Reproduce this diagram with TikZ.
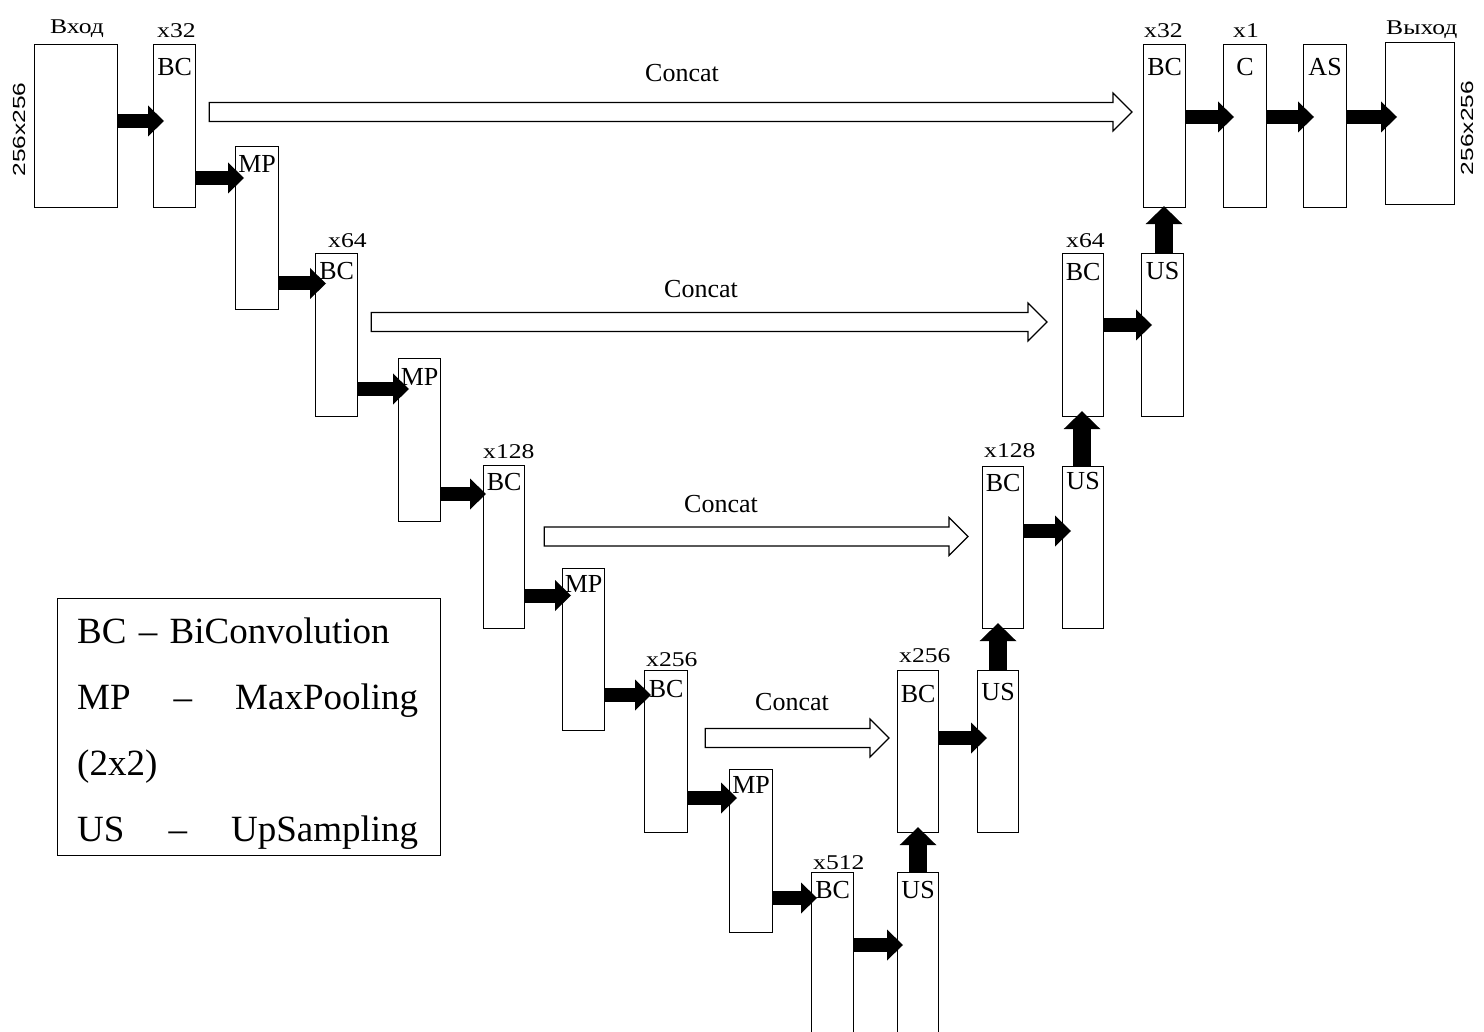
\documentclass[tikz,border=0pt]{standalone}
\usepackage{fontspec}
\setmainfont{Liberation Serif}
\newfontfamily\stretchserif[FakeStretch=1.22]{Liberation Serif}
\newfontfamily\stretchsans[FakeStretch=1.4]{Liberation Sans}
\usetikzlibrary{arrows.meta,calc}
\newcommand\hollowarrow[2]{%
  \draw[concatarrow] ($(#1)+(0,-9.5)$) -- ($(#2)+(-19,-9.5)$) -- ($(#2)+(-19,-19)$) -- (#2)
    -- ($(#2)+(-19,19)$) -- ($(#2)+(-19,9.5)$) -- ($(#1)+(0,9.5)$) -- cycle;}
\newcommand\inlblfont{\fontsize{26}{30}\selectfont}
\newcommand\toplblfont{\stretchserif\fontsize{21}{24}\selectfont}
\newcommand\sidelblfont{\stretchsans\fontsize{17.5}{20}\selectfont}
\newcommand\legendfont{\fontsize{37}{66}\selectfont}
\begin{document}
\begin{tikzpicture}[x=1pt,y=-1pt,
  unitbox/.style={draw, line width=1.2pt, anchor=north west, inner sep=0pt},
  inlbl/.style={font=\inlblfont, inner sep=0pt, anchor=base},
  toplbl/.style={font=\toplblfont, inner sep=0pt, anchor=base west},
  sidelbl/.style={font=\sidelblfont, inner sep=0pt, rotate=90},
  blkarrow/.style={line width=14pt, -{Triangle[length=16pt,width=31pt,line width=0pt]}},
  uparrow/.style={line width=18pt, -{Triangle[length=18pt,width=37pt,line width=0pt]}},
  concatarrow/.style={draw, line width=1.2pt, fill=white, line join=miter},
  concatlbl/.style={font=\inlblfont, inner sep=0pt, anchor=base}]
\useasboundingbox (0,0) rectangle (1484,1032);

% ---------- boxes ----------
\node[unitbox, minimum width=83pt, minimum height=163pt] (in)   at (34,44) {};
\node[unitbox, minimum width=42pt, minimum height=163pt] (bc1)  at (153,44) {};
\node[unitbox, minimum width=43pt, minimum height=163pt] (mp1)  at (235,146) {};
\node[unitbox, minimum width=42pt, minimum height=163pt] (bc2)  at (315,253) {};
\node[unitbox, minimum width=42pt, minimum height=163pt] (mp2)  at (398,358) {};
\node[unitbox, minimum width=41pt, minimum height=163pt] (bc3)  at (483,465) {};
\node[unitbox, minimum width=42pt, minimum height=162pt] (mp3)  at (562,568) {};
\node[unitbox, minimum width=43pt, minimum height=162pt] (bc4)  at (644,670) {};
\node[unitbox, minimum width=43pt, minimum height=163pt] (mp4)  at (729,769) {};
\node[unitbox, minimum width=42pt, minimum height=163pt] (bc5)  at (811,872) {};
\node[unitbox, minimum width=41pt, minimum height=163pt] (us5)  at (897,872) {};
\node[unitbox, minimum width=41pt, minimum height=162pt] (bcu4) at (897,670) {};
\node[unitbox, minimum width=41pt, minimum height=162pt] (us4)  at (977,670) {};
\node[unitbox, minimum width=41pt, minimum height=162pt] (bcu3) at (982,466) {};
\node[unitbox, minimum width=41pt, minimum height=162pt] (us3)  at (1062,466) {};
\node[unitbox, minimum width=41pt, minimum height=163pt] (bcu2) at (1062,253) {};
\node[unitbox, minimum width=42pt, minimum height=163pt] (us2)  at (1141,253) {};
\node[unitbox, minimum width=42pt, minimum height=163pt] (bcu1) at (1143,44) {};
\node[unitbox, minimum width=43pt, minimum height=163pt] (cc)   at (1223,44) {};
\node[unitbox, minimum width=43pt, minimum height=163pt] (as)   at (1303,44) {};
\node[unitbox, minimum width=69pt, minimum height=162pt] (out)  at (1385,42) {};

% ---------- texts inside boxes ----------
\node[inlbl] (bc1t)  at ($(bc1.north)+(0,32)$)  {BC};
\node[inlbl] (mp1t)  at ($(mp1.north)+(0,27)$)  {MP};
\node[inlbl] (bc2t)  at ($(bc2.north)+(0,27)$)  {BC};
\node[inlbl] (mp2t)  at ($(mp2.north)+(0,27)$)  {MP};
\node[inlbl] (bc3t)  at ($(bc3.north)+(0,25)$)  {BC};
\node[inlbl] (mp3t)  at ($(mp3.north)+(0,24)$)  {MP};
\node[inlbl] (bc4t)  at ($(bc4.north)+(0,27)$)  {BC};
\node[inlbl] (mp4t)  at ($(mp4.north)+(0,24)$)  {MP};
\node[inlbl] (bc5t)  at ($(bc5.north)+(0,26)$)  {BC};
\node[inlbl] (us5t)  at ($(us5.north)+(0,26)$)  {US};
\node[inlbl] (bcu4t) at ($(bcu4.north)+(0,32)$) {BC};
\node[inlbl] (us4t)  at ($(us4.north)+(0,30)$)  {US};
\node[inlbl] (bcu3t) at ($(bcu3.north)+(0,25)$) {BC};
\node[inlbl] (us3t)  at ($(us3.north)+(0,23)$)  {US};
\node[inlbl] (bcu2t) at ($(bcu2.north)+(0,28)$) {BC};
\node[inlbl] (us2t)  at ($(us2.north)+(0,27)$)  {US};
\node[inlbl] (bcu1t) at ($(bcu1.north)+(0,32)$) {BC};
\node[inlbl] (cct)   at ($(cc.north)+(0,32)$)   {C};
\node[inlbl] (ast)   at ($(as.north)+(0,32)$)   {AS};

% ---------- labels above boxes ----------
\node[toplbl] (inl)   at (50,34)    {Вход};
\node[toplbl] (outl)  at (1386,35)  {Выход};
\node[toplbl] (bc1l)  at (157,38)   {x32};
\node[toplbl] (bc2l)  at (328,248)  {x64};
\node[toplbl] (bc3l)  at (483,458)  {x128};
\node[toplbl] (bc4l)  at (646,666)  {x256};
\node[toplbl] (bc5l)  at (813,869)  {x512};
\node[toplbl] (bcu4l) at (899,662)  {x256};
\node[toplbl] (bcu3l) at (984,457)  {x128};
\node[toplbl] (bcu2l) at (1066,248) {x64};
\node[toplbl] (bcu1l) at (1144,38)  {x32};
\node[toplbl] (ccl)   at (1233,38)  {x1};
\node[sidelbl] (insz)  at (19,129.5) {256x256};
\node[sidelbl] (outsz) at (1467,128) {256x256};

% ---------- black arrows ----------
\draw[blkarrow] (in.east |- 0,121)     -- ($(bc1.west |- 0,121)+(11,0)$);
\draw[blkarrow] (bc1.east |- 0,178)    -- ($(mp1.west |- 0,178)+(9,0)$);
\draw[blkarrow] (mp1.east |- 0,283.5)  -- ($(bc2.west |- 0,283.5)+(11,0)$);
\draw[blkarrow] (bc2.east |- 0,389)    -- ($(mp2.west |- 0,389)+(11,0)$);
\draw[blkarrow] (mp2.east |- 0,494)    -- ($(bc3.west |- 0,494)+(3,0)$);
\draw[blkarrow] (bc3.east |- 0,595.5)  -- ($(mp3.west |- 0,595.5)+(9,0)$);
\draw[blkarrow] (mp3.east |- 0,695)    -- ($(bc4.west |- 0,695)+(7,0)$);
\draw[blkarrow] (bc4.east |- 0,798)    -- ($(mp4.west |- 0,798)+(8,0)$);
\draw[blkarrow] (mp4.east |- 0,898)    -- ($(bc5.west |- 0,898)+(6,0)$);
\draw[blkarrow] (bc5.east |- 0,945)    -- ($(us5.west |- 0,945)+(6,0)$);
\draw[blkarrow] (bcu4.east |- 0,738)   -- ($(us4.west |- 0,738)+(10,0)$);
\draw[blkarrow] (bcu3.east |- 0,531)   -- ($(us3.west |- 0,531)+(9,0)$);
\draw[blkarrow] (bcu2.east |- 0,325)   -- ($(us2.west |- 0,325)+(11,0)$);
\draw[blkarrow] (bcu1.east |- 0,117)   -- ($(cc.west |- 0,117)+(11,0)$);
\draw[blkarrow] (cc.east |- 0,117)     -- ($(as.west |- 0,117)+(11,0)$);
\draw[blkarrow] (as.east |- 0,117)     -- ($(out.west |- 0,117)+(12,0)$);
\draw[uparrow] (us5.north -| 918,0)  -- ($(bcu4.south -| 918,0)+(0,-6)$);
\draw[uparrow] (us4.north -| 998,0)  -- ($(bcu3.south -| 998,0)+(0,-6)$);
\draw[uparrow] (us3.north -| 1082,0) -- ($(bcu2.south -| 1082,0)+(0,-6)$);
\draw[uparrow] (us2.north -| 1164,0) -- ($(bcu1.south -| 1164,0)+(0,-2)$);

% ---------- concat arrows ----------
\coordinate (c1s) at ($(bc1.east |- 0,112)+(13,0)$);
\coordinate (c1e) at ($(bcu1.west |- 0,112)+(-11,0)$);
\coordinate (c2s) at ($(bc2.east |- 0,322)+(13,0)$);
\coordinate (c2e) at ($(bcu2.west |- 0,322)+(-15,0)$);
\coordinate (c3s) at ($(bc3.east |- 0,536.5)+(19,0)$);
\coordinate (c3e) at ($(bcu3.west |- 0,536.5)+(-14,0)$);
\coordinate (c4s) at ($(bc4.east |- 0,738)+(17,0)$);
\coordinate (c4e) at ($(bcu4.west |- 0,738)+(-8,0)$);
\hollowarrow{c1s}{c1e}
\hollowarrow{c2s}{c2e}
\hollowarrow{c3s}{c3e}
\hollowarrow{c4s}{c4e}
\node[concatlbl] (cl1) at (682,82)  {Concat};
\node[concatlbl] (cl2) at (701,298) {Concat};
\node[concatlbl] (cl3) at (721,512) {Concat};
\node[concatlbl] (cl4) at (792,710) {Concat};

% ---------- legend ----------
\node[unitbox, minimum width=383pt, minimum height=257pt] (legend) at (57,598) {};
\node[anchor=north west, inner sep=0pt, text width=341pt, align=left, font=\legendfont] (legtext) at (77,618)
  {BC – BiConvolution\\
   MP\hfill–\hfill MaxPooling\\
   (2x2)\\
   US\hfill–\hfill UpSampling};
\end{tikzpicture}
\end{document}
